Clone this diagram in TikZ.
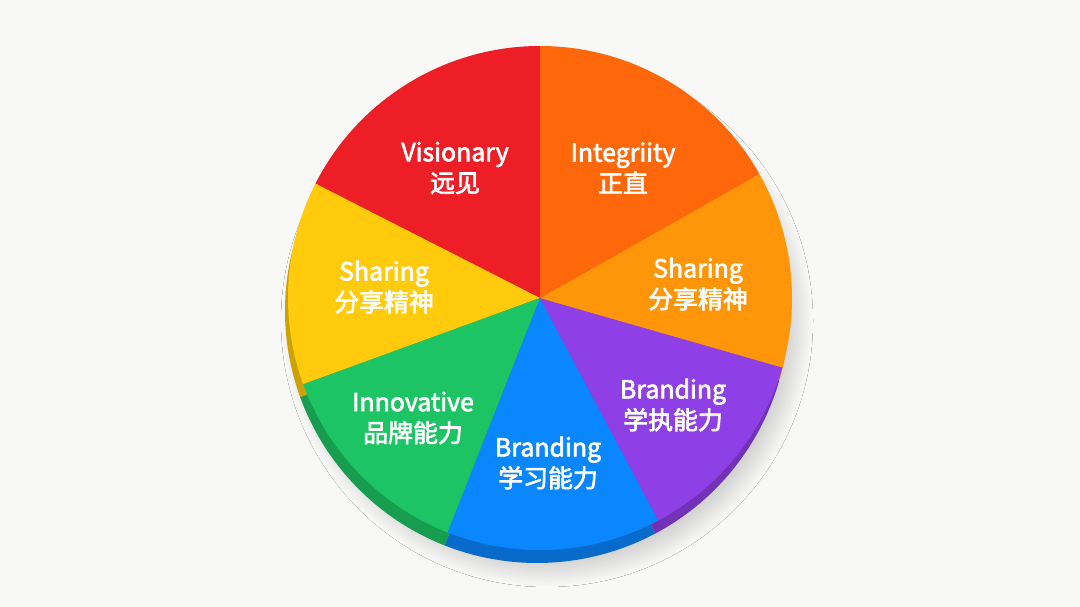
\documentclass[tikz,border=0pt]{standalone}
\usepackage{fontspec}
\setmainfont{Noto Sans CJK SC}[FakeBold=2.6]
\usepackage{tikz}
\usetikzlibrary{shadows.blur}

\definecolor{bgcol}{HTML}{F8F8F6}
\definecolor{cred}{HTML}{EE1E26}
\definecolor{corange}{HTML}{FF680A}
\definecolor{camber}{HTML}{FF960A}
\definecolor{cpurple}{HTML}{8E3FE6}
\definecolor{cblue}{HTML}{0A86FF}
\definecolor{cgreen}{HTML}{1DC463}
\definecolor{cyellow}{HTML}{FFCB0C}

\begin{document}
\begin{tikzpicture}[
    x=1bp, y=1bp,
    lbl/.style={font=\fontsize{25}{31}\selectfont, text=white, align=center,
                inner sep=0pt},
    sidewedge/.style={fill=#1!80!black},
    topwedge/.style={fill=#1}
  ]
    % ---- background ----
    \fill[bgcol] (0,0) rectangle (1080,607);
    \coordinate (c) at (540,309);
    \coordinate (cs) at (537,296);
    % ---- shadow ----
    \fill[bgcol, blur shadow={shadow xshift=10bp, shadow yshift=-10bp,
          shadow blur radius=16bp, shadow blur steps=24, shadow opacity=18}]
      (cs) circle[radius=250];
    % ---- side of the disc ----
    \foreach \a/\b/\col in {90/153/cred, 153/200/cyellow, 200/248.5/cgreen,
                            248.5/298/cblue, 298/344/cpurple, 344/389.5/camber,
                            29.5/90/corange}
      \fill[sidewedge=\col] (cs) -- ++(\a:252) arc[start angle=\a, end angle=\b, radius=252] -- cycle;
    % ---- top face ----
    \foreach \a/\b/\col in {90/153/cred, 153/200/cyellow, 200/248.5/cgreen,
                            248.5/298/cblue, 298/344/cpurple, 344/389.5/camber,
                            29.5/90/corange}
      \fill[topwedge=\col] (c) -- ++(\a:252) arc[start angle=\a, end angle=\b, radius=252] -- cycle;
    % ---- labels ----
    \node[lbl] (vis) at (455,439) {Visionary\\远见};
    \node[lbl] (int) at (623,439) {Integriity\\正直};
    \node[lbl] (shl) at (384,320) {Sharing\\分享精神};
    \node[lbl] (shr) at (698,323) {Sharing\\分享精神};
    \node[lbl] (inn) at (413,189) {Innovative\\品牌能力};
    \node[lbl] (brb) at (548,144) {Branding\\学习能力};
    \node[lbl] (brp) at (673,202) {Branding\\学执能力};
  \end{tikzpicture}
\end{document}
